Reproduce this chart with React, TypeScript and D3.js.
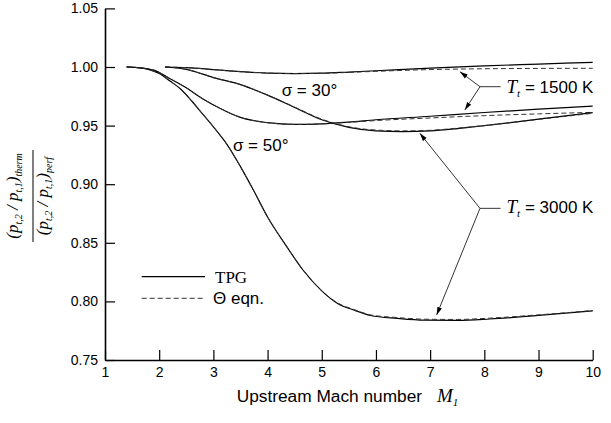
import React, { useEffect, useRef } from 'react';
import * as d3 from 'd3';

// axis ticks
const machTicks = [1, 2, 3, 4, 5, 6, 7, 8, 9, 10];
const ratioTicks = [0.75, 0.8, 0.85, 0.9, 0.95, 1.0, 1.05];

// sigma = 50 deg, Tt = 1500 K
const s50t15Mach = [1.4, 1.6, 1.9, 2.2, 2.5, 2.8, 3.1, 3.5, 4.0, 4.5, 5.0, 5.5, 6.0, 7.0, 8.0, 9.0, 10.0];
const s50t15Tpg = [1.0, 0.9995, 0.9973, 0.99, 0.9822, 0.973, 0.9653, 0.957, 0.9525, 0.951, 0.9515, 0.953, 0.955, 0.958, 0.9612, 0.964, 0.9667];
const s50t15Theta = [1.0, 0.9995, 0.9973, 0.99, 0.9822, 0.973, 0.9653, 0.957, 0.9525, 0.951, 0.9515, 0.9528, 0.9543, 0.9565, 0.9585, 0.96, 0.9613];

// sigma = 30 deg, Tt = 1500 K
const s30t15Mach = [2.11, 2.5, 3.0, 3.5, 4.0, 4.5, 5.0, 5.5, 6.0, 7.0, 8.0, 9.0, 10.0];
const s30t15Tpg = [1.0, 0.9995, 0.9978, 0.996, 0.9948, 0.9944, 0.9947, 0.9957, 0.9968, 0.999, 1.001, 1.0025, 1.004];
const s30t15Theta = [1.0, 0.9995, 0.9978, 0.996, 0.9948, 0.9944, 0.9946, 0.9954, 0.9963, 0.9978, 0.9985, 0.9988, 0.9989];

// sigma = 30 deg, Tt = 3000 K
const s30t30Mach = [2.11, 2.5, 3.0, 3.5, 4.0, 4.5, 5.0, 5.5, 6.0, 6.5, 7.0, 7.5, 8.0, 9.0, 10.0];
const s30t30Tpg = [1.0, 0.998, 0.991, 0.985, 0.976, 0.9655, 0.955, 0.9485, 0.9455, 0.9448, 0.9455, 0.9475, 0.95, 0.9555, 0.961];
const s30t30Theta = [1.0, 0.998, 0.991, 0.985, 0.976, 0.9658, 0.9555, 0.949, 0.9462, 0.9455, 0.946, 0.9478, 0.95, 0.9553, 0.9605];

// sigma = 50 deg, Tt = 3000 K
const s50t30Mach = [1.4, 1.6, 1.8, 2.0, 2.2, 2.4, 2.6, 2.8, 3.0, 3.25, 3.5, 3.75, 4.0, 4.35, 4.65, 5.0, 5.3, 5.6, 5.9, 6.4, 6.9, 7.5, 8.1, 9.0, 10.0];
const s50t30Tpg = [1.0, 0.9995, 0.998, 0.9945, 0.988, 0.981, 0.971, 0.96, 0.949, 0.934, 0.915, 0.894, 0.872, 0.847, 0.827, 0.809, 0.798, 0.7925, 0.788, 0.7855, 0.784, 0.7838, 0.785, 0.788, 0.792];
const s50t30Theta = [1.0, 0.9995, 0.998, 0.9945, 0.988, 0.981, 0.971, 0.96, 0.949, 0.934, 0.915, 0.894, 0.872, 0.847, 0.827, 0.809, 0.7985, 0.793, 0.7885, 0.7862, 0.7848, 0.7846, 0.7857, 0.7885, 0.7922];

const seriesList = [
  { mach: s50t15Mach, tpg: s50t15Tpg, theta: s50t15Theta },
  { mach: s30t15Mach, tpg: s30t15Tpg, theta: s30t15Theta },
  { mach: s30t30Mach, tpg: s30t30Tpg, theta: s30t30Theta },
  { mach: s50t30Mach, tpg: s50t30Tpg, theta: s50t30Theta },
];

// annotation arrows: [junction M, junction value, tip M, tip value]
const arrows15 = [[7.92, 0.9832, 7.55, 0.996], [7.92, 0.9832, 7.64, 0.9633]];
const arrows30 = [[7.92, 0.8794, 6.81, 0.9434], [7.92, 0.8794, 7.12, 0.7884]];

const SANS = "'Liberation Sans', Arial, sans-serif";
const SERIF = "'Liberation Serif', 'Times New Roman', serif";

function App() {
  const chartRef = useRef<SVGSVGElement>(null);

  const width = 611;
  const height = 423;

  useEffect(() => {
    const x = d3.scaleLinear().domain([1, 10]).range([105, 592.7]);
    const y = d3.scaleLinear().domain([0.75, 1.05]).range([360, 8.4]);

    const svg = d3.select(chartRef.current);
    svg.selectAll('*').remove();

    svg.append('defs').append('marker')
      .attr('id', 'arrowhead')
      .attr('markerUnits', 'userSpaceOnUse')
      .attr('markerWidth', 8)
      .attr('markerHeight', 6)
      .attr('refX', 8)
      .attr('refY', 3)
      .attr('orient', 'auto')
      .append('path')
      .attr('d', 'M0,0.6 L8,3 L0,5.4 z')
      .attr('fill', '#000');

    // axes
    const xAxis = d3.axisBottom(x)
      .tickValues(machTicks)
      .tickSizeInner(-10)
      .tickSizeOuter(0)
      .tickPadding(7)
      .tickFormat(d3.format('d'));
    const yAxis = d3.axisLeft(y)
      .tickValues(ratioTicks)
      .tickSizeInner(-10)
      .tickSizeOuter(0)
      .tickPadding(7)
      .tickFormat(d3.format('.2f'));

    const gx = svg.append('g')
      .attr('transform', `translate(0,${y(0.75)})`)
      .call(xAxis);
    const gy = svg.append('g')
      .attr('transform', `translate(${x(1)},0)`)
      .call(yAxis);

    [gx, gy].forEach(g => {
      g.select('.domain').attr('stroke-width', 1.6).attr('stroke', '#000');
      g.selectAll('.tick line').attr('stroke-width', 1.2).attr('stroke', '#000');
      g.selectAll('.tick text')
        .attr('font-family', SANS)
        .attr('font-size', 14)
        .attr('fill', '#000');
    });

    // curves
    const line = d3.line<[number, number]>()
      .x(d => x(d[0]))
      .y(d => y(d[1]))
      .curve(d3.curveMonotoneX);

    seriesList.forEach(s => {
      svg.append('path')
        .datum(s.mach.map((m, i) => [m, s.tpg[i]] as [number, number]))
        .attr('fill', 'none')
        .attr('stroke', '#000')
        .attr('stroke-width', 1.2)
        .attr('d', line);
      svg.append('path')
        .datum(s.mach.map((m, i) => [m, s.theta[i]] as [number, number]))
        .attr('fill', 'none')
        .attr('stroke', '#333')
        .attr('stroke-width', 1)
        .attr('stroke-dasharray', '5,3')
        .attr('d', line);
    });

    // arrows and leaders
    [arrows15, arrows30].forEach(group => {
      group.forEach(a => {
        svg.append('line')
          .attr('x1', x(a[0])).attr('y1', y(a[1]))
          .attr('x2', x(a[2])).attr('y2', y(a[3]))
          .attr('stroke', '#000')
          .attr('stroke-width', 0.8)
          .attr('marker-end', 'url(#arrowhead)');
      });
      svg.append('line')
        .attr('x1', x(group[0][0])).attr('y1', y(group[0][1]))
        .attr('x2', x(8.3)).attr('y2', y(group[0][1]))
        .attr('stroke', '#000')
        .attr('stroke-width', 0.8);
    });

    // temperature labels
    const tLabel = (m: number, v: number, rest: string) => {
      const t = svg.append('text')
        .attr('x', x(m))
        .attr('y', y(v))
        .attr('font-size', 17)
        .attr('fill', '#000');
      t.append('tspan').attr('font-family', SERIF).attr('font-style', 'italic').attr('font-size', 19).text('T');
      t.append('tspan').attr('font-family', SERIF).attr('font-style', 'italic').attr('font-size', 11).attr('dy', 4).text('t');
      t.append('tspan').attr('font-family', SANS).attr('dy', -4).text(rest);
    };
    tLabel(8.41, 0.9781, ' = 1500 K');
    tLabel(8.41, 0.8754, ' = 3000 K');

    // sigma labels
    svg.append('text')
      .attr('x', x(4.26)).attr('y', y(0.9753))
      .attr('font-family', SANS).attr('font-size', 17)
      .text('σ = 30°');
    svg.append('text')
      .attr('x', x(3.36)).attr('y', y(0.9283))
      .attr('font-family', SANS).attr('font-size', 17)
      .text('σ = 50°');

    // legend
    const legend = svg.append('g');
    legend.append('line')
      .attr('x1', 141.7).attr('x2', 205).attr('y1', 276.7).attr('y2', 276.7)
      .attr('stroke', '#000').attr('stroke-width', 1.2);
    legend.append('text')
      .attr('x', 215).attr('y', 282.5)
      .attr('font-family', SERIF).attr('font-size', 17)
      .text('TPG');
    legend.append('line')
      .attr('x1', 141.7).attr('x2', 205).attr('y1', 298.3).attr('y2', 298.3)
      .attr('stroke', '#333').attr('stroke-width', 1).attr('stroke-dasharray', '5,3');
    legend.append('text')
      .attr('x', 213).attr('y', 304)
      .attr('font-family', SANS).attr('font-size', 17)
      .text('Θ eqn.');

    // x axis title
    const xt = svg.append('text')
      .attr('x', 236.7).attr('y', 402)
      .attr('font-family', SANS).attr('font-size', 17.3);
    xt.append('tspan').text('Upstream Mach number');
    xt.append('tspan').attr('x', 437).attr('font-family', SERIF).attr('font-style', 'italic').attr('font-size', 19).text('M');
    xt.append('tspan').attr('font-family', SERIF).attr('font-style', 'italic').attr('font-size', 11).attr('dy', 4).text('1');

    // y axis title (fraction)
    const yt = svg.append('g').attr('transform', 'translate(33,196) rotate(-90)');
    const frac = (yy: number, tail: string) => {
      const t = yt.append('text')
        .attr('x', 0).attr('y', yy)
        .attr('text-anchor', 'middle')
        .attr('font-family', SERIF)
        .attr('font-style', 'italic')
        .attr('font-size', 17);
      t.append('tspan').text('(p');
      t.append('tspan').attr('font-size', 10).attr('dy', 4).text('t,2');
      t.append('tspan').attr('dy', -4).text(' / p');
      t.append('tspan').attr('font-size', 10).attr('dy', 4).text('t,1');
      t.append('tspan').attr('dy', -4).text(')');
      t.append('tspan').attr('font-size', 10).attr('dy', 4).text(tail);
    };
    frac(-15.5, 'therm');
    frac(14.5, 'perf');
    yt.append('line')
      .attr('x1', -46).attr('x2', 46).attr('y1', 0).attr('y2', 0)
      .attr('stroke', '#000').attr('stroke-width', 1);

  // eslint-disable-next-line
  }, []);

  return (
    <svg
      ref={chartRef}
      width={width}
      height={height}
      viewBox={`0 0 ${width} ${height}`}
      style={{ position: 'absolute', left: 0, top: 0, background: '#fff' }}
    ></svg>
  );
}

export default App;
